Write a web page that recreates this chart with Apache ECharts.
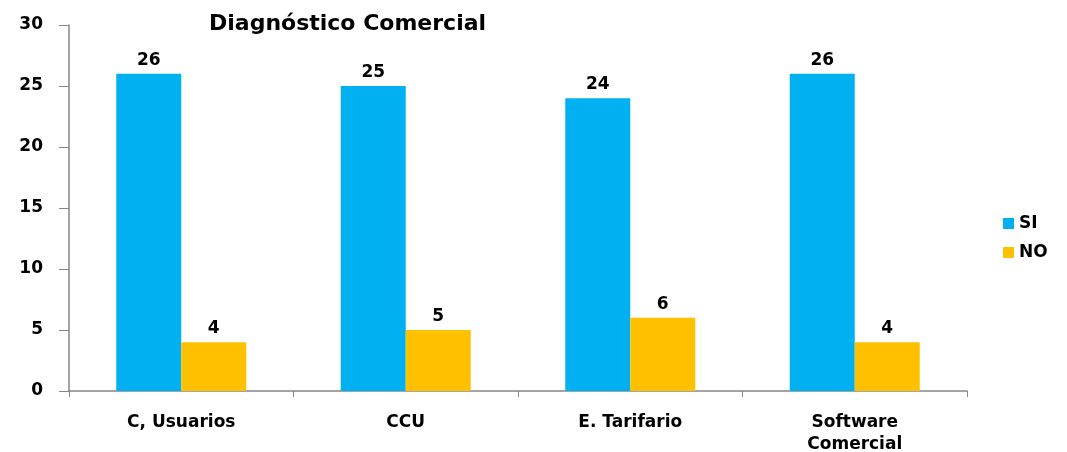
<!DOCTYPE html>
<html>
<head>
<meta charset="utf-8">
<script src="https://cdn.jsdelivr.net/npm/echarts@6/dist/echarts.min.js"></script>
<style>
  html, body { margin: 0; padding: 0; background: #fff; }
  #chart { width: 1067px; height: 452px; }
</style>
</head>
<body>
<div id="chart"></div>
<script>
// categorias y valores
const categorias = ['C, Usuarios', 'CCU', 'E. Tarifario', 'Software\nComercial']
const valoresSI = [26, 25, 24, 26]
const valoresNO = [4, 5, 6, 4]

const fuente = 'DejaVu Sans'
const colores = ['#00B0F0', '#FFC000']

const myChart = echarts.init(document.getElementById('chart'))

const option = {
  animation: false,
  color: colores,
  title: {
    text: 'Diagnóstico Comercial',
    left: 204,
    top: 8,
    textStyle: { fontFamily: fuente, fontWeight: 'bold', fontSize: 22, color: '#000' }
  },
  legend: {
    orient: 'vertical',
    left: 998,
    top: 210,
    icon: 'rect',
    itemWidth: 11,
    itemHeight: 11,
    itemGap: 12,
    textStyle: { fontFamily: fuente, fontWeight: 'bold', fontSize: 17, color: '#000' },
    data: ['SI', 'NO']
  },
  grid: { left: 69, right: 100, top: 25, bottom: 61, outerBoundsMode: 'none' },
  xAxis: {
    type: 'category',
    data: categorias,
    axisLine: { lineStyle: { color: '#868686', width: 1.5 } },
    axisTick: { show: true, length: 6, lineStyle: { color: '#868686' } },
    axisLabel: {
      margin: 21,
      fontFamily: fuente, fontWeight: 'bold', fontSize: 17, color: '#000',
      lineHeight: 22
    }
  },
  yAxis: {
    type: 'value',
    min: 0,
    max: 30,
    interval: 5,
    axisLine: { show: true, lineStyle: { color: '#868686', width: 1.5 } },
    axisTick: { show: true, length: 10, lineStyle: { color: '#868686' } },
    splitLine: { show: false },
    axisLabel: {
      margin: 26,
      fontFamily: fuente, fontWeight: 'bold', fontSize: 17, color: '#000'
    }
  },
  series: [
    {
      name: 'SI',
      type: 'bar',
      data: valoresSI,
      barWidth: 65,
      barGap: '0%',
      label: { show: true, position: 'top', distance: 5, fontFamily: fuente, fontWeight: 'bold', fontSize: 17, color: '#000' }
    },
    {
      name: 'NO',
      type: 'bar',
      data: valoresNO,
      barWidth: 65,
      barGap: '0%',
      label: { show: true, position: 'top', distance: 5, fontFamily: fuente, fontWeight: 'bold', fontSize: 17, color: '#000' }
    }
  ]
}

myChart.setOption(option)
</script>
</body>
</html>
